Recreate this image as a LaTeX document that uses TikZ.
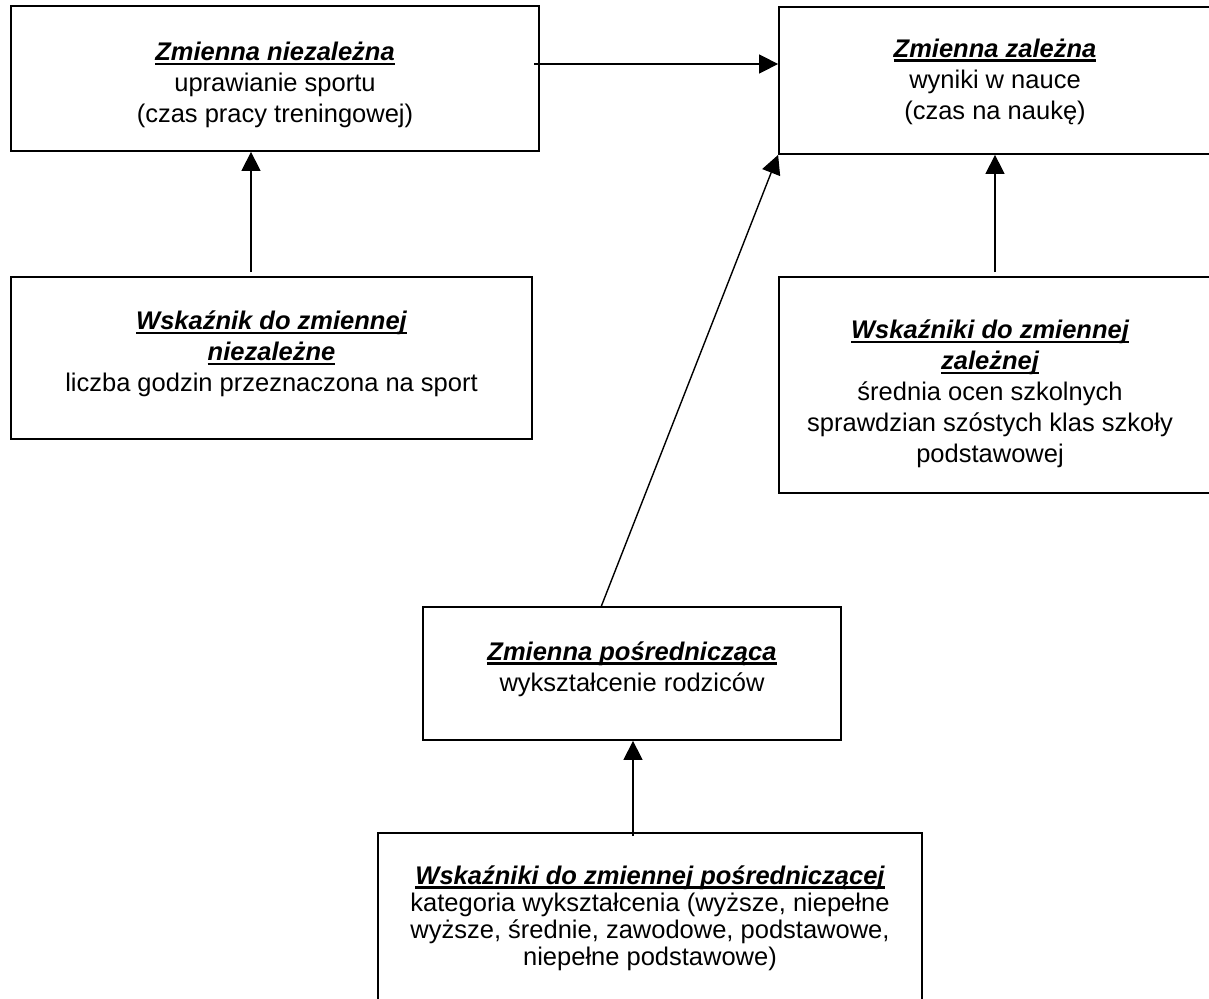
\documentclass[tikz,border=0pt]{standalone}
\usepackage{fontspec}
\setmainfont{Liberation Sans}
\usetikzlibrary{arrows.meta}
\newsavebox\ulbox
\newcommand\ttl[1]{\sbox\ulbox{\bfseries\itshape #1}\rlap{\rule[-4.5pt]{\wd\ulbox}{2.4pt}}\usebox\ulbox}
\begin{document}
\begin{tikzpicture}[x=1pt,y=-1pt,
  box/.style={draw, line width=1.8pt, rectangle, inner sep=0pt},
  txt/.style={inner sep=0pt, align=center, font=\fontsize{25.5}{31}\selectfont},
  arr/.style={line width=1.4pt, -{Triangle[length=19pt,width=19pt]}}]
\useasboundingbox (0,0) rectangle (1209,998);

\node[box, minimum width=528pt, minimum height=145pt] (b1) at (275,78.5) {};
\node[box, minimum width=432pt, minimum height=147pt] (b2) at (995,80.5) {};
\node[box, minimum width=521pt, minimum height=162pt] (b3) at (271.5,358) {};
\node[box, minimum width=432pt, minimum height=216pt] (b4) at (995,385) {};
\node[box, minimum width=418pt, minimum height=133pt] (b5) at (632,673.5) {};
\node[box, minimum width=544pt, minimum height=172pt] (b6) at (650,919) {};

\node[txt] (t1) at (275,85)
  {\ttl{Zmienna niezależna}\\uprawianie sportu\\(czas pracy treningowej)};
\node[txt] (t2) at (995,81.5)
  {\ttl{Zmienna zależna}\\wyniki w nauce\\(czas na naukę)};
\node[txt] (t3) at (271.5,354)
  {\ttl{Wskaźnik do zmiennej}\\\ttl{niezależne}\\liczba godzin przeznaczona na sport};
\node[txt] (t4) at (990,394)
  {\ttl{Wskaźniki do zmiennej}\\\ttl{zależnej}\\średnia ocen szkolnych\\sprawdzian szóstych klas szkoły\\podstawowej};
\node[txt] (t5) at (632,669)
  {\ttl{Zmienna pośrednicząca}\\wykształcenie rodziców};
\node[txt, font=\fontsize{25.5}{27}\selectfont] (t6) at (650,918)
  {\ttl{Wskaźniki do zmiennej pośredniczącej}\\kategoria wykształcenia (wyższe, niepełne\\wyższe, średnie, zawodowe, podstawowe,\\niepełne podstawowe)};

\coordinate (s1) at (534,64);
\coordinate (s2) at (251,272);
\coordinate (s3) at (995,272);
\coordinate (s4) at (601,607);
\coordinate (s5) at (633,836);

\draw[arr] (s1) -- (s1 -| b2.west);
\draw[arr] (s2) -- (s2 |- b1.south);
\draw[arr] (s3) -- (s3 |- b2.south);
\draw[arr] (s4) -- (b2.south west);
\draw[arr] (s5) -- (s5 |- b5.south);
\end{tikzpicture}
\end{document}
